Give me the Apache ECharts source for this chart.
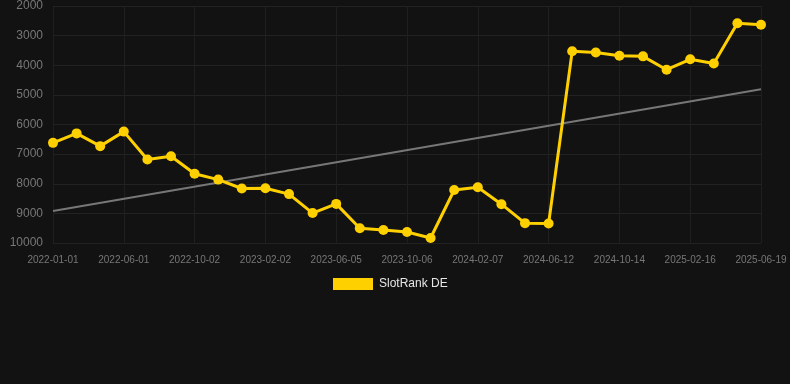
<!DOCTYPE html>
<html>
<head>
<meta charset="utf-8">
<script src="https://cdn.jsdelivr.net/npm/echarts@6/dist/echarts.min.js"></script>
<style>
html,body{margin:0;padding:0;background:#121212;}
#c{width:790px;height:384px;}
</style>
</head>
<body>
<div id="c"></div>
<script>
const categories = [
  '2022-01-01','2022-02-20','2022-04-11','2022-06-01','2022-07-12','2022-08-22',
  '2022-10-02','2022-11-12','2022-12-23','2023-02-02','2023-03-15','2023-04-25',
  '2023-06-05','2023-07-16','2023-08-26','2023-10-06','2023-11-16','2023-12-27',
  '2024-02-07','2024-03-19','2024-05-01','2024-06-12','2024-07-23','2024-09-02',
  '2024-10-14','2024-11-24','2025-01-05','2025-02-16','2025-03-29','2025-05-09',
  '2025-06-19'
];
const rankValues = [
  6620, 6300, 6730, 6240, 7180, 7070,
  7660, 7860, 8160, 8150, 8350, 8990,
  8680, 9500, 9560, 9630, 9830, 8210,
  8120, 8690, 9330, 9340, 3530, 3570,
  3680, 3700, 4150, 3800, 3940, 2580,
  2630
];
const trendStart = 8920;
const trendEnd = 4810;
const seriesName = 'SlotRank DE';

const chart = echarts.init(document.getElementById('c'));
chart.setOption({
  backgroundColor: '#121212',
  animation: false,
  grid: { left: 53, right: 29, top: 6, bottom: 141, containLabel: false },
  legend: {
    data: [seriesName],
    top: 278,
    left: 333,
    padding: 0,
    icon: 'rect',
    itemWidth: 40,
    itemHeight: 12,
    itemGap: 10,
    textStyle: { color: '#e6e6e6', fontSize: 12, padding: [0, 0, 0, 1], fontFamily: 'Liberation Sans, Arial, sans-serif' }
  },
  xAxis: {
    type: 'category',
    data: categories,
    boundaryGap: false,
    axisLine: { show: false },
    axisTick: { show: false },
    axisLabel: { interval: 2, color: '#777', fontSize: 10, margin: 12, fontFamily: 'Liberation Sans, Arial, sans-serif' },
    splitLine: { show: true, interval: 2, lineStyle: { color: '#1f1f1f', width: 1 } }
  },
  yAxis: {
    type: 'value',
    inverse: true,
    min: 2000,
    max: 10000,
    interval: 1000,
    axisLine: { show: false },
    axisTick: { show: false },
    axisLabel: { color: '#777', fontSize: 12, margin: 10, formatter: v => String(v), fontFamily: 'Liberation Sans, Arial, sans-serif' },
    splitLine: { show: true, lineStyle: { color: '#222', width: 1 } }
  },
  series: [
    {
      name: seriesName,
      type: 'line',
      data: rankValues,
      symbol: 'circle',
      symbolSize: 10,
      itemStyle: { color: '#FFD000' },
      lineStyle: { color: '#FFD000', width: 3 },
      z: 3
    },
    {
      name: 'trend',
      type: 'line',
      data: [[0, trendStart], [categories.length - 1, trendEnd]],
      symbol: 'none',
      lineStyle: { color: '#777', width: 2 },
      z: 2
    }
  ]
});
</script>
</body>
</html>
